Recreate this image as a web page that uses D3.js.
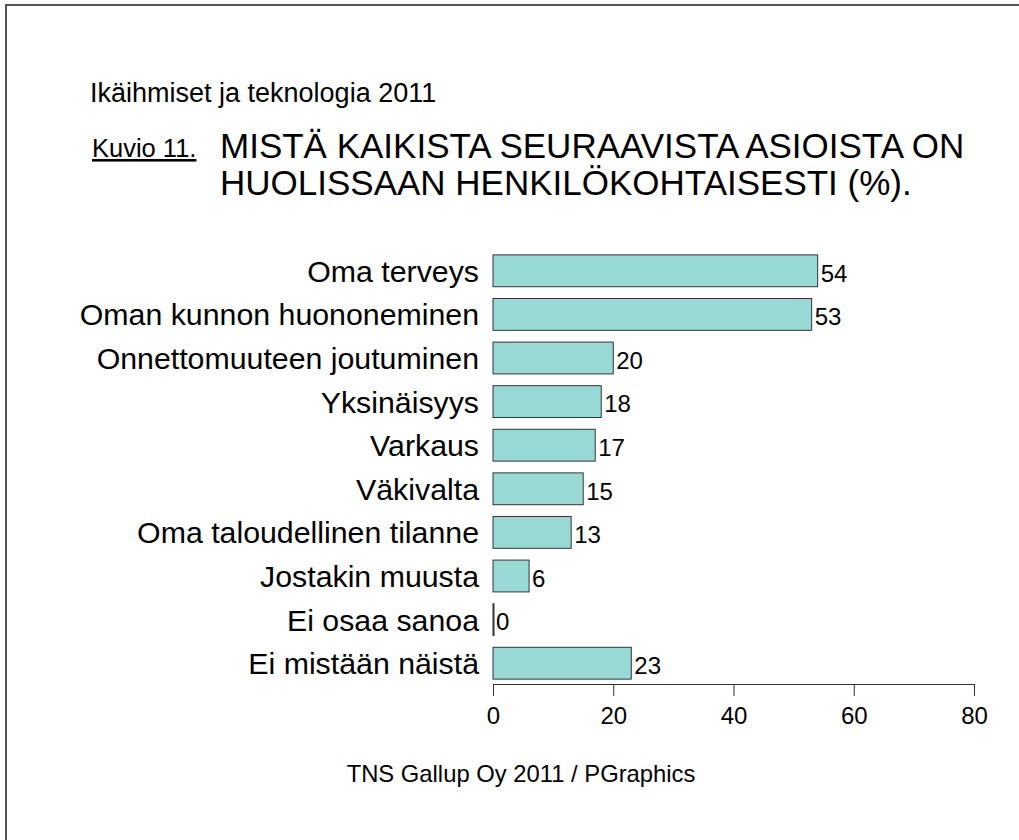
<!DOCTYPE html>
<html>
<head>
<meta charset="utf-8">
<script src="https://cdn.jsdelivr.net/npm/d3@7"></script>
<style>
  body { margin: 0; background: #fff; }
  text { font-family: "Liberation Sans", Arial, sans-serif; fill: #000; }
</style>
</head>
<body>
<svg id="chart" width="1019" height="840"></svg>
<script>
const categories = [
    "Oma terveys",
    "Oman kunnon huononeminen",
    "Onnettomuuteen joutuminen",
    "Yksinäisyys",
    "Varkaus",
    "Väkivalta",
    "Oma taloudellinen tilanne",
    "Jostakin muusta",
    "Ei osaa sanoa",
    "Ei mistään näistä"
];
const values = [54, 53, 20, 18, 17, 15, 13, 6, 0, 23];
const tickValues = [0, 20, 40, 60, 80];

const svg = d3.select("#chart");

// frame (top + left edge only)
svg.append("path")
    .attr("d", "M6,840 L6,5 L1019,5")
    .attr("fill", "none")
    .attr("stroke", "#555")
    .attr("stroke-width", 2);

svg.append("text")
    .attr("x", 90)
    .attr("y", 102)
    .attr("font-size", 27)
    .text("Ikäihmiset ja teknologia 2011");

svg.append("text")
    .attr("x", 92)
    .attr("y", 157)
    .attr("font-size", 25.5)
    .attr("text-decoration", "underline")
    .text("Kuvio 11.");

svg.append("text")
    .attr("x", 220)
    .attr("y", 158)
    .attr("font-size", 35)
    .text("MISTÄ KAIKISTA SEURAAVISTA ASIOISTA ON");

svg.append("text")
    .attr("x", 220)
    .attr("y", 195)
    .attr("font-size", 35)
    .text("HUOLISSAAN HENKILÖKOHTAISESTI (%).");

const x = d3.scaleLinear().domain([0, 80]).range([493, 974]);
const y = d3.scaleBand()
    .domain(categories)
    .range([249, 685])
    .paddingInner(0.27)
    .paddingOuter(0.135);

const rows = categories.map((c, i) => ({ name: c, value: values[i] }));

svg.append("g")
    .selectAll("rect")
    .data(rows)
    .join("rect")
    .attr("x", x(0))
    .attr("y", d => y(d.name))
    .attr("width", d => Math.max(x(d.value) - x(0), 1))
    .attr("height", y.bandwidth())
    .attr("fill", "#98d9d6")
    .attr("stroke", "#333")
    .attr("stroke-width", 1);

svg.append("g")
    .selectAll("text")
    .data(rows)
    .join("text")
    .attr("x", d => x(d.value) + 3)
    .attr("y", d => y(d.name) + y.bandwidth() / 2)
    .attr("dy", "0.45em")
    .attr("font-size", 24)
    .text(d => d.value);

svg.append("g")
    .selectAll("text")
    .data(rows)
    .join("text")
    .attr("x", 479)
    .attr("y", d => y(d.name) + y.bandwidth() / 2)
    .attr("dy", "0.36em")
    .attr("text-anchor", "end")
    .attr("font-size", 30.3)
    .text(d => d.name);

const axis = svg.append("g")
    .attr("transform", "translate(0,684)")
    .call(d3.axisBottom(x).tickValues(tickValues).tickSize(12).tickPadding(11).tickSizeOuter(0));
axis.select(".domain").attr("stroke", "#333");
axis.selectAll(".tick line").attr("stroke", "#333");
axis.selectAll(".tick text")
    .attr("font-size", 24)
    .attr("fill", "#000");

svg.append("text")
    .attr("x", 521)
    .attr("y", 782)
    .attr("text-anchor", "middle")
    .attr("font-size", 23.8)
    .text("TNS Gallup Oy 2011 / PGraphics");
</script>
</body>
</html>
